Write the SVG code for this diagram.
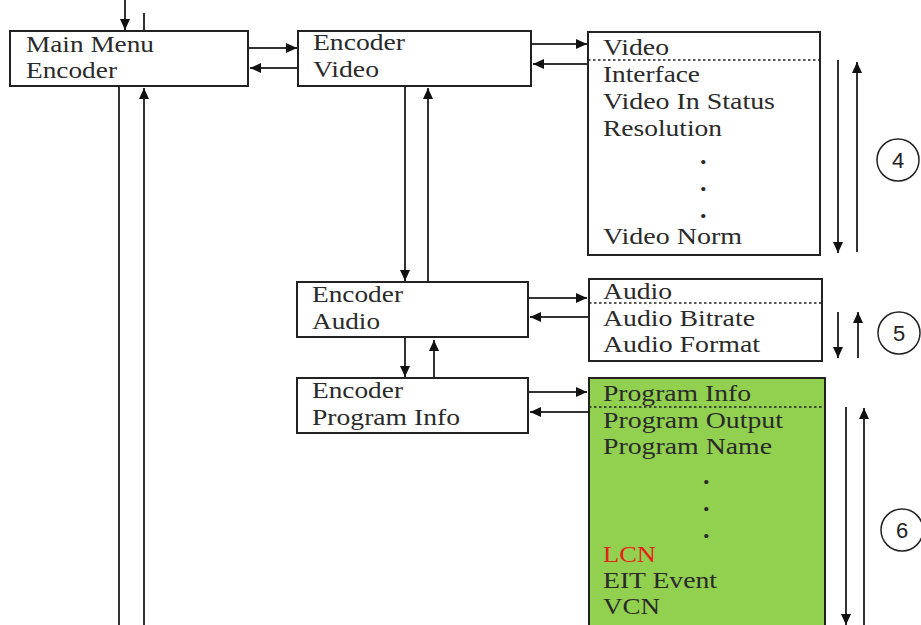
<svg xmlns="http://www.w3.org/2000/svg" width="921" height="625" viewBox="0 0 921 625">
<style>
.box{fill:#fff;stroke:#222;stroke-width:2}
.green{fill:#92d050;stroke:#222;stroke-width:2}
.t{font-family:"Liberation Serif","Times New Roman",serif;font-size:24px;fill:#2a2a2a}
.d{font-family:"Liberation Serif","Times New Roman",serif;font-size:26px;font-weight:bold;fill:#2a2a2a}
.red{fill:#e8201a}
.c{stroke:#333;stroke-width:2;fill:none}
.a{marker-end:url(#ah)}
.dot{stroke:#222;stroke-width:1.5;stroke-dasharray:2.5,2.5}
.num{font-family:"Liberation Sans",Arial,sans-serif;font-size:22px;fill:#222;text-anchor:middle}
.circ{fill:#fff;stroke:#222;stroke-width:1.5}
</style>
<defs>
<marker id="ah" markerUnits="userSpaceOnUse" markerWidth="12" markerHeight="12" refX="11" refY="5" orient="auto">
<path d="M0,0 L11,5 L0,10 z" fill="#111"/>
</marker>
</defs>
<rect width="921" height="625" fill="#fff"/>

<g id="connectors">
<line class="c a" x1="125" y1="0" x2="125" y2="30"/>
<line class="c" x1="144" y1="13" x2="144" y2="31"/>
<line class="c" x1="119" y1="86" x2="119" y2="625"/>
<line class="c a" x1="144" y1="625" x2="144" y2="88"/>
<line class="c a" x1="248" y1="48" x2="297" y2="48"/>
<line class="c a" x1="298" y1="68" x2="250" y2="68"/>
<line class="c a" x1="531" y1="44" x2="587" y2="44"/>
<line class="c a" x1="588" y1="64" x2="533" y2="64"/>
<line class="c a" x1="405" y1="86" x2="405" y2="281"/>
<line class="c a" x1="428" y1="282" x2="428" y2="88"/>
<line class="c a" x1="528" y1="298" x2="587" y2="298"/>
<line class="c a" x1="589" y1="317" x2="530" y2="317"/>
<line class="c a" x1="405" y1="338" x2="405" y2="377"/>
<line class="c a" x1="434" y1="378" x2="434" y2="340"/>
<line class="c a" x1="528" y1="392" x2="587" y2="392"/>
<line class="c a" x1="589" y1="412" x2="530" y2="412"/>
<line class="c a" x1="838" y1="60" x2="838" y2="253"/>
<line class="c a" x1="857" y1="252" x2="857" y2="62"/>
<line class="c a" x1="838" y1="312" x2="838" y2="358"/>
<line class="c a" x1="858" y1="358" x2="858" y2="312"/>
<line class="c a" x1="846" y1="407" x2="846" y2="625"/>
<line class="c a" x1="864" y1="625" x2="864" y2="408"/>
</g>

<g id="main-menu">
<rect class="box" x="10" y="31" width="238" height="55"/>
<text class="t" x="26" y="52" textLength="128" lengthAdjust="spacingAndGlyphs">Main Menu</text>
<text class="t" x="26" y="78" textLength="91" lengthAdjust="spacingAndGlyphs">Encoder</text>
</g>

<g id="encoder-video">
<rect class="box" x="298" y="31" width="233" height="55"/>
<text class="t" x="313" y="50" textLength="92" lengthAdjust="spacingAndGlyphs">Encoder</text>
<text class="t" x="313" y="77" textLength="66" lengthAdjust="spacingAndGlyphs">Video</text>
</g>

<g id="video-list">
<rect class="box" x="588" y="32" width="232" height="223"/>
<line class="dot" x1="588" y1="60" x2="820" y2="60"/>
<text class="t" x="603" y="55" textLength="66" lengthAdjust="spacingAndGlyphs">Video</text>
<text class="t" x="603" y="82" textLength="97" lengthAdjust="spacingAndGlyphs">Interface</text>
<text class="t" x="603" y="109" textLength="172" lengthAdjust="spacingAndGlyphs">Video In Status</text>
<text class="t" x="603" y="136" textLength="119" lengthAdjust="spacingAndGlyphs">Resolution</text>
<text class="d" x="700" y="164">.</text>
<text class="d" x="700" y="191">.</text>
<text class="d" x="700" y="218">.</text>
<text class="t" x="603" y="244" textLength="139" lengthAdjust="spacingAndGlyphs">Video Norm</text>
</g>

<g id="badge-4">
<circle class="circ" cx="898" cy="160" r="21"/>
<text class="num" x="898" y="168">4</text>
</g>

<g id="encoder-audio">
<rect class="box" x="297" y="282" width="231" height="55"/>
<text class="t" x="312" y="302" textLength="91" lengthAdjust="spacingAndGlyphs">Encoder</text>
<text class="t" x="312" y="329" textLength="68" lengthAdjust="spacingAndGlyphs">Audio</text>
</g>

<g id="audio-list">
<rect class="box" x="589" y="279" width="233" height="82"/>
<line class="dot" x1="589" y1="303" x2="822" y2="303"/>
<text class="t" x="603" y="299" textLength="69" lengthAdjust="spacingAndGlyphs">Audio</text>
<text class="t" x="603" y="326" textLength="152" lengthAdjust="spacingAndGlyphs">Audio Bitrate</text>
<text class="t" x="603" y="352" textLength="157" lengthAdjust="spacingAndGlyphs">Audio Format</text>
</g>

<g id="badge-5">
<circle class="circ" cx="899" cy="333" r="21"/>
<text class="num" x="899" y="341">5</text>
</g>

<g id="encoder-program-info">
<rect class="box" x="297" y="378" width="231" height="55"/>
<text class="t" x="312" y="398" textLength="91" lengthAdjust="spacingAndGlyphs">Encoder</text>
<text class="t" x="312" y="425" textLength="148" lengthAdjust="spacingAndGlyphs">Program Info</text>
</g>

<g id="program-list">
<rect class="green" x="589" y="378" width="236" height="260"/>
<line class="dot" x1="589" y1="407" x2="825" y2="407"/>
<text class="t" x="603" y="401" textLength="148" lengthAdjust="spacingAndGlyphs">Program Info</text>
<text class="t" x="603" y="428" textLength="180" lengthAdjust="spacingAndGlyphs">Program Output</text>
<text class="t" x="603" y="454" textLength="169" lengthAdjust="spacingAndGlyphs">Program Name</text>
<text class="d" x="703" y="484">.</text>
<text class="d" x="703" y="511">.</text>
<text class="d" x="703" y="538">.</text>
<text class="t red" x="603" y="562" textLength="53" lengthAdjust="spacingAndGlyphs">LCN</text>
<text class="t" x="603" y="588" textLength="114" lengthAdjust="spacingAndGlyphs">EIT Event</text>
<text class="t" x="603" y="614" textLength="57" lengthAdjust="spacingAndGlyphs">VCN</text>
</g>

<g id="badge-6">
<circle class="circ" cx="902" cy="530" r="21"/>
<text class="num" x="902" y="538">6</text>
</g>
</svg>
